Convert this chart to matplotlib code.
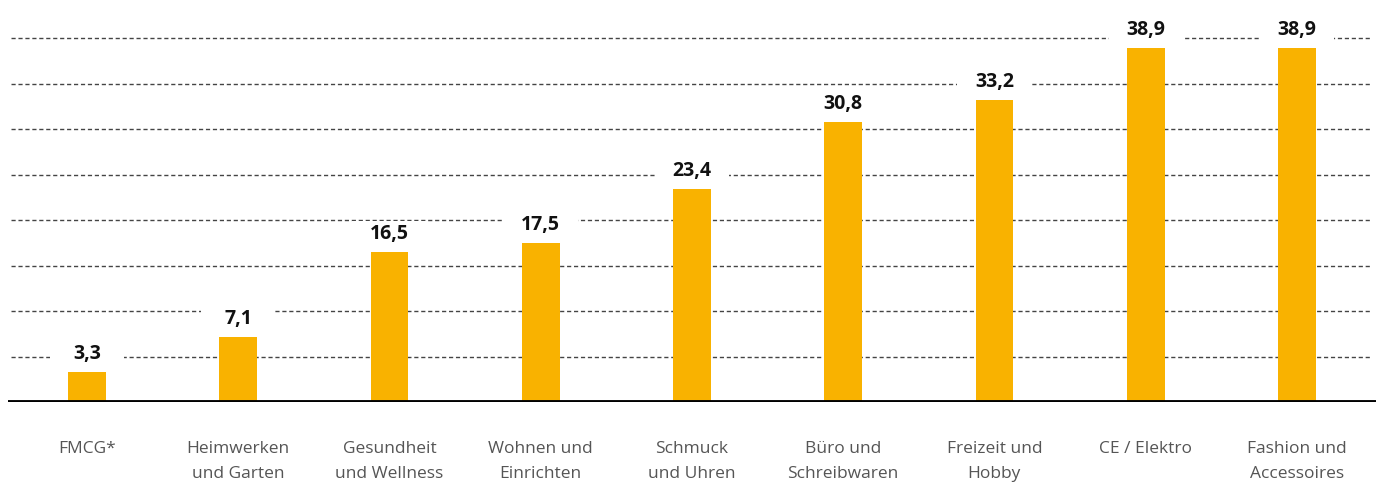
import numpy as np
import matplotlib.pyplot as plt
from matplotlib.path import Path

# Data
categories = ['FMCG*', 'Heimwerken\nund Garten', 'Gesundheit\nund Wellness',
              'Wohnen und\nEinrichten', 'Schmuck\nund Uhren', 'Büro und\nSchreibwaren',
              'Freizeit und\nHobby', 'CE / Elektro', 'Fashion und\nAccessoires']
values = [3.3, 7.1, 16.5, 17.5, 23.4, 30.8, 33.2, 38.9, 38.9]
labels = ['3,3', '7,1', '16,5', '17,5', '23,4', '30,8', '33,2', '38,9', '38,9']
gridlines = [5, 10, 15, 20, 25, 30, 35, 40]

bar_color = '#F9B200'

plt.rcParams['font.family'] = ['Open Sans', 'DejaVu Sans']


# white box of fixed width behind the value labels (cuts the gridlines)
def label_box(x0, y0, width, height, mutation_size):
    cx = x0 + width / 2
    cy = y0 + height / 2
    hw = 37
    hh = height / 2 + 3
    return Path([(cx - hw, cy - hh), (cx + hw, cy - hh), (cx + hw, cy + hh),
                 (cx - hw, cy + hh), (cx - hw, cy - hh)], closed=True)


fig = plt.figure(figsize=(13.76, 4.82), dpi=100)
W, H = 1376, 482
ax = fig.add_axes([8 / W, 80 / H, 1368 / W, 402 / H])

x = np.arange(len(categories))
ax.bar(x, values, width=0.25, color=bar_color, zorder=5)

for g in gridlines:
    ax.plot([-0.5, 8.49], [g, g], color='#444444', lw=1, ls=(0, (3, 2)), zorder=1)
ax.axhline(0, color='black', lw=3.5, zorder=6)

for xi, v, lab in zip(x, values, labels):
    ax.annotate(lab, (xi, v), xytext=(0, 18), textcoords='offset pixels',
                ha='center', va='center', fontsize=14, fontweight='bold', color='#111111',
                bbox=dict(boxstyle=label_box, fc='white', ec='none'), zorder=4)

ax.set_xlim(-0.522, 8.523)
ax.set_ylim(0, 44.18)
ax.set_xticks(x)
ax.set_xticklabels(categories, fontsize=12.5, color='#555555', linespacing=1.75)
ax.tick_params(axis='x', length=0, pad=28)
ax.set_yticks([])
for s in ax.spines.values():
    s.set_visible(False)

fig.savefig('out.png', dpi=100)
